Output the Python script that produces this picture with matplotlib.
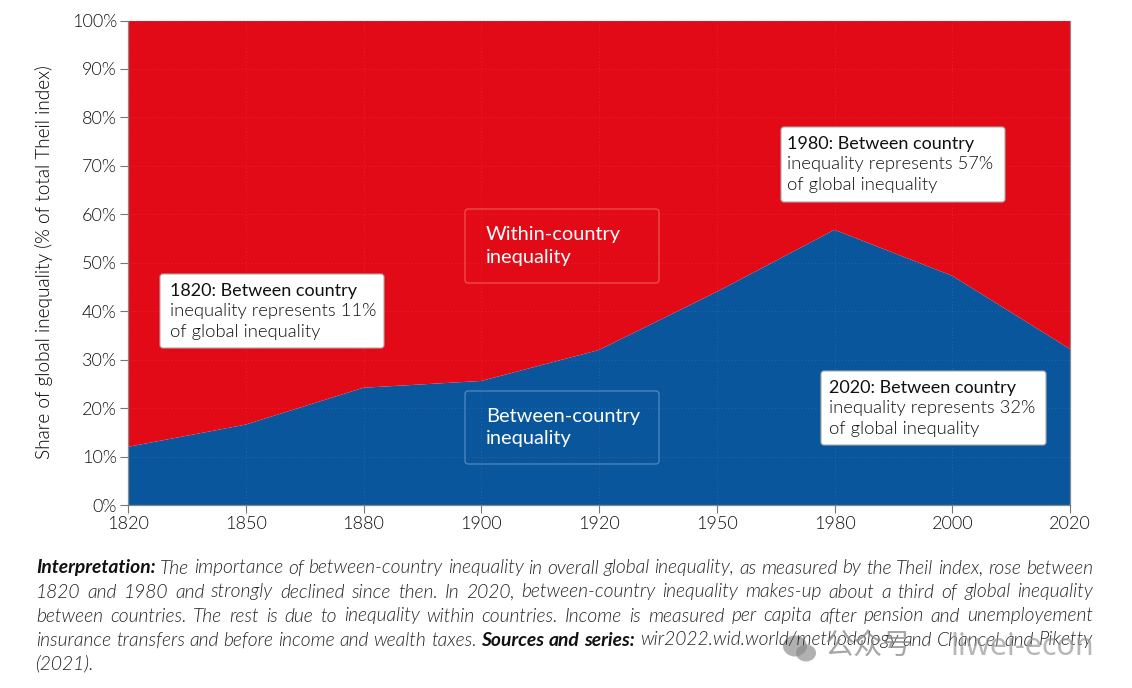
import numpy as np
import matplotlib
matplotlib.use("Agg")
import matplotlib.pyplot as plt
from matplotlib.patches import FancyBboxPatch, Ellipse

plt.rcParams['font.family'] = ['Lato', 'DejaVu Sans']

###############################################
# Data:

years = ['1820', '1850', '1880', '1900', '1920', '1950', '1980', '2000', '2020']
between = [12.0, 16.6, 24.2, 25.6, 32.0, 44.0, 56.8, 47.3, 32.2]
within = [88.0, 83.4, 75.8, 74.4, 68.0, 56.0, 43.2, 52.7, 67.8]
y_ticks = [0, 10, 20, 30, 40, 50, 60, 70, 80, 90, 100]

callout_1820 = ["1820: Between country", "inequality represents 11%", "of global inequality"]
callout_1980 = ["1980: Between country", "inequality represents 57%", "of global inequality"]
callout_2020 = ["2020: Between country", "inequality represents 32%", "of global inequality"]
label_within = "Within-country\ninequality"
label_between = "Between-country\ninequality"

note_lines = [
    [("Interpretation:", "bold"), ("The importance of between-country inequality in overall global inequality, as measured by the Theil index, rose between", 300)],
    [("1820 and 1980 and strongly declined since then. In 2020, between-country inequality makes-up about a third of global inequality", 300)],
    [("between countries. The rest is due to inequality within countries. Income is measured per capita after pension and unemployement", 300)],
    [("insurance transfers and before income and wealth taxes.", 300), ("Sources and series:", "bold"), ("wir2022.wid.world/methodology and Chancel and Piketty", 300)],
    [("(2021).", 300)],
]

BLUE = "#09569c"
RED = "#e20a16"
W, H = 1132, 688

fig = plt.figure(figsize=(W/100, H/100), dpi=100)
ax = fig.add_axes([128/W, 1-505/H, (1070-128)/W, (505-20.5)/H])

x = np.arange(len(years))
ax.stackplot(x, between, within, colors=[BLUE, RED], linewidth=0)
ax.set_xlim(0, len(years)-1)
ax.set_ylim(0, 100)

# faint dotted grid, on top of the areas
ax.set_axisbelow(False)
ax.grid(True, color="white", alpha=.14, lw=.6, ls=(0, (1, 3)))

ax.set_xticks(x, years)
ax.set_yticks(y_ticks, ["%d%%" % v for v in y_ticks])
ax.tick_params(axis='x', length=6, width=.8, color="#777777", labelsize=13, labelcolor="#111111", pad=2)
ax.tick_params(axis='y', length=6, width=.8, color="#777777", labelsize=13, labelcolor="#111111", pad=2)
for lab in ax.get_xticklabels() + ax.get_yticklabels():
    lab.set_fontweight(300)
for s in ['top']:
    ax.spines[s].set_visible(False)
for s in ['left', 'right', 'bottom']:
    ax.spines[s].set_color("#888888")
    ax.spines[s].set_linewidth(.9)

fig.text(44/W, 1-262/H, "Share of global inequality (% of total Theil index)", rotation=90,
         ha='center', va='center', fontsize=13.7, color="#000000", fontweight=300)


###############################################
# Boxes, placed in pixels of the picture:

def px(xp, yp):
    return xp/W, 1-yp/H

def draw_box(x0, y0, x1, y1, face, edge):
    r = 3
    fig.add_artist(FancyBboxPatch((x0+r, H-y1+r), x1-x0-2*r, y1-y0-2*r,
                                  boxstyle="round,pad=%d,rounding_size=%d" % (r, r),
                                  transform=None, facecolor=face, edgecolor=edge, lw=.8, zorder=5))

def callout(x0, y0, x1, y1, lines, pad):
    draw_box(x0, y0, x1, y1, "white", "#aaaaaa")
    for i, line in enumerate(lines):
        fig.text(*px(x0+pad, y0+17+20.3*i), line, ha='left', va='center',
                 fontsize=13 if i == 0 else 13.2,
                 color="#111111", fontweight="normal" if i == 0 else 300, zorder=6)

def area_label(x0, y0, x1, y1, txt, edge):
    draw_box(x0, y0, x1, y1, "none", edge)
    fig.text(*px(x0+21, (y0+y1)/2), txt, ha='left', va='center', fontsize=14.4,
             color="white", linespacing=1.4, zorder=6)

callout(160, 274, 384, 348, callout_1820, 10)
callout(781, 127, 1005, 202, callout_1980, 6)
callout(821, 371, 1046, 445, callout_2020, 8)
area_label(465, 209, 659, 283, label_within, "#ee5a5a")
area_label(465, 391, 659, 464, label_between, "#5d8fc0")


###############################################
# Justified footnote, word by word:

renderer = fig.canvas.get_renderer()
left, right = 36, 1093

def make_word(word, weight):
    return fig.text(0, 0, word, fontsize=13.9, style='italic', fontweight=weight,
                    color="#222222" if weight == 300 else "#111111")

for i, runs in enumerate(note_lines):
    words = [make_word(w, weight) for txt, weight in runs for w in txt.split()]
    widths = [t.get_window_extent(renderer).width for t in words]
    if i < len(note_lines)-1:
        gap = (right-left-sum(widths))/(len(words)-1)
    else:
        gap = 4
    xp = left
    for t, w in zip(words, widths):
        t.set_position(px(xp, 568+24*i))
        t.set_va('center')
        xp += w+gap

# watermark
fig.add_artist(Ellipse((795, H-646), 24, 21, transform=None, facecolor="#888888", alpha=.65, lw=0))
fig.add_artist(Ellipse((806, H-653), 20, 17, transform=None, facecolor="#888888", alpha=.65, lw=0))
fig.text(*px(825, 647), "公众号", fontsize=21, color="#888888", alpha=.75, va='center',
         family=['Noto Sans CJK SC', 'DejaVu Sans'])
fig.text(*px(950, 647), "liwei-econ", fontsize=22, color="#999999", alpha=.7, va='center',
         family=['Noto Sans', 'DejaVu Sans'])

fig.savefig("out.png", dpi=100)
